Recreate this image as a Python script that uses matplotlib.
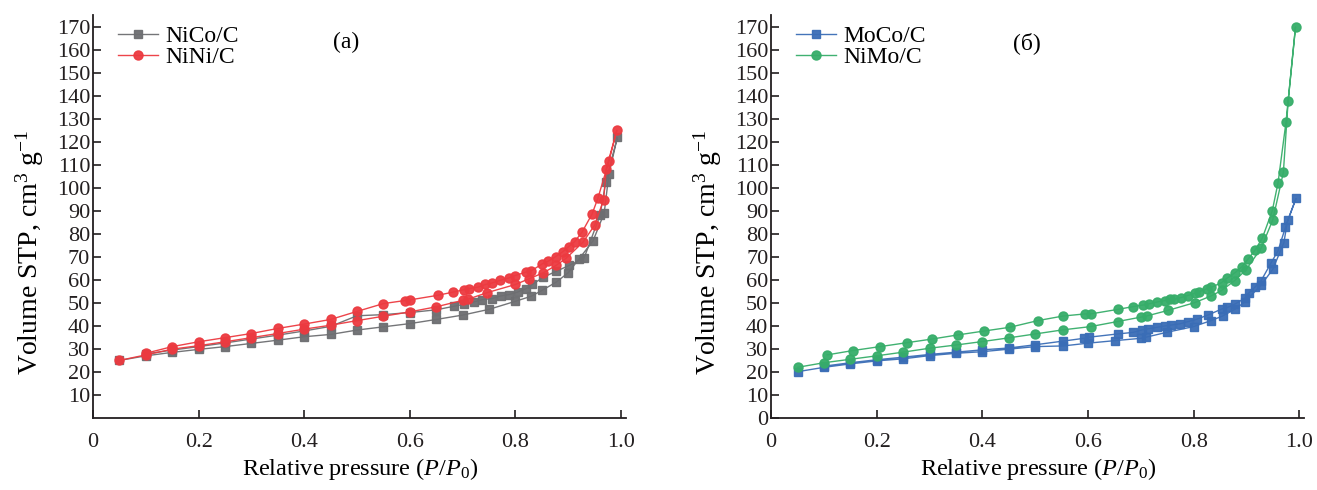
import matplotlib
matplotlib.use("Agg")
import matplotlib.pyplot as plt
from matplotlib.ticker import FixedLocator

plt.rcParams['font.family'] = ['Liberation Serif', 'DejaVu Serif']
plt.rcParams['mathtext.fontset'] = 'custom'
plt.rcParams['mathtext.rm'] = 'Liberation Serif'
plt.rcParams['mathtext.it'] = 'Liberation Serif:italic'

# ---------------- Panel (a) ----------------
nico_ads_p = [0.05, 0.10, 0.15, 0.20, 0.25, 0.30, 0.35, 0.40, 0.45, 0.50, 0.55, 0.60, 0.65,
              0.70, 0.75, 0.80, 0.83, 0.85, 0.877, 0.90, 0.92, 0.947, 0.968, 0.977, 0.993]
nico_ads_v = [25, 27, 28.5, 29.8, 31, 32.4, 33.8, 35.3, 36.3, 38.2, 39.6, 41, 42.8,
              44.7, 47.2, 50.7, 52.9, 55.4, 59, 63.1, 69, 77, 89, 106, 122]
nico_des_p = [0.971, 0.96, 0.93, 0.902, 0.877, 0.853, 0.832, 0.82, 0.804, 0.788, 0.772, 0.756,
              0.737, 0.721, 0.702, 0.683, 0.65, 0.60, 0.55, 0.50, 0.45, 0.40, 0.35, 0.30,
              0.25, 0.20, 0.15, 0.10]
nico_des_v = [102.6, 88, 69.5, 66.3, 63.7, 61.2, 58, 56.2, 54.7, 53.6, 53, 51.9,
              51.4, 50.4, 49.4, 48.5, 47, 45.8, 44.9, 44.4, 39.8, 37.8, 36, 34.3,
              32.6, 31, 29.5, 27.8]

nini_ads_p = [0.05, 0.10, 0.15, 0.20, 0.25, 0.30, 0.35, 0.40, 0.45, 0.50, 0.55, 0.60, 0.65,
              0.70, 0.71, 0.747, 0.80, 0.826, 0.853, 0.877, 0.896, 0.928, 0.95, 0.967, 0.972, 0.992]
nini_ads_v = [25, 27.4, 29.9, 31.4, 33.1, 34.9, 36.7, 38.6, 40.3, 42.3, 44.2, 46.1, 48.3,
              51.1, 51.6, 54.5, 58, 60.5, 63.1, 66.3, 69.4, 76.4, 83.8, 94.8, 108.3, 125]
nini_des_p = [0.977, 0.956, 0.945, 0.926, 0.912, 0.901, 0.89, 0.876, 0.861, 0.851, 0.829, 0.82,
              0.80, 0.787, 0.771, 0.755, 0.743, 0.73, 0.712, 0.702, 0.682, 0.653, 0.60, 0.59,
              0.55, 0.50, 0.45, 0.40, 0.35, 0.30, 0.25, 0.20, 0.15, 0.10]
nini_des_v = [111.6, 95.4, 88.6, 80.7, 76.6, 74.5, 72.3, 70.1, 68, 67, 63.8, 63.4,
              61.9, 60.8, 59.8, 58.6, 58, 56.9, 56.2, 55.7, 54.7, 53.3, 51.3, 51,
              49.7, 46.3, 42.8, 40.8, 38.9, 36.7, 34.9, 33.1, 31, 28.1]

# ---------------- Panel (б) ----------------
moco_ads_p = [0.05, 0.10, 0.15, 0.20, 0.25, 0.30, 0.35, 0.40, 0.45, 0.50, 0.553, 0.60, 0.651,
              0.70, 0.71, 0.749, 0.80, 0.833, 0.855, 0.878, 0.898, 0.928, 0.95, 0.971, 0.978, 0.994]
moco_ads_v = [20.1, 22, 23.5, 24.8, 25.7, 27.1, 28.1, 28.8, 29.9, 31, 31.3, 32.5, 33.6,
              34.6, 35.1, 37.2, 39.7, 42.3, 44.3, 47.2, 50.6, 57.8, 64.6, 76.2, 85.8, 95.4]
moco_des_p = [0.974, 0.96, 0.947, 0.928, 0.916, 0.904, 0.897, 0.879, 0.864, 0.854, 0.828, 0.806,
              0.79, 0.774, 0.758, 0.746, 0.731, 0.713, 0.703, 0.686, 0.656, 0.602, 0.592, 0.553,
              0.50, 0.45, 0.40, 0.35, 0.30, 0.25, 0.20, 0.15, 0.10]
moco_des_v = [82.9, 72.7, 67.5, 59.7, 56.8, 54.2, 52, 49.6, 48, 47.4, 44.8, 42.9,
              41.9, 40.9, 40.4, 40, 39.4, 38.7, 38.3, 37.2, 36.5, 35.1, 34.6, 33.4,
              31.8, 30.4, 29.6, 28.6, 27.6, 26.4, 25.3, 24, 22.5]

nimo_ads_p = [0.05, 0.10, 0.15, 0.20, 0.25, 0.30, 0.35, 0.40, 0.45, 0.50, 0.553, 0.605, 0.656,
              0.70, 0.711, 0.751, 0.802, 0.833, 0.853, 0.878, 0.899, 0.928, 0.95, 0.97, 0.979, 0.993]
nimo_ads_v = [22, 24, 25.5, 27, 28.6, 30.3, 31.7, 33.2, 34.8, 36.5, 38.3, 39.7, 41.9,
              43.8, 44.3, 46.7, 50.1, 53, 55.4, 59.7, 64.3, 73.8, 86.1, 106.7, 137.5, 169.9]
nimo_des_p = [0.975, 0.96, 0.949, 0.93, 0.916, 0.903, 0.892, 0.879, 0.863, 0.853, 0.833, 0.825,
              0.811, 0.803, 0.789, 0.776, 0.762, 0.755, 0.746, 0.731, 0.716, 0.705, 0.686, 0.657,
              0.605, 0.594, 0.553, 0.505, 0.452, 0.404, 0.354, 0.305, 0.257, 0.206, 0.155, 0.106]
nimo_des_v = [128.6, 102.3, 90, 78.1, 72.8, 69, 65.8, 63.2, 60.7, 58.8, 56.7, 56.1,
              54.9, 54.2, 53.2, 52.3, 51.6, 51.6, 51, 50.4, 49.6, 49.1, 48.4, 47.2,
              45.2, 45.2, 44.3, 42.3, 39.4, 37.8, 36.1, 34.3, 32.7, 31, 29.3, 27.4]

x_ticks = [0, 0.2, 0.4, 0.6, 0.8, 1.0]
x_ticklabels = ["0", "0.2", "0.4", "0.6", "0.8", "1.0"]
yticks_a = list(range(10, 171, 10))
yticks_b = list(range(0, 171, 10))

GRAY = "#6d6e71"
RED = "#ec3a40"
BLUE = "#3a6db6"
GREEN = "#36ad69"

fig = plt.figure(figsize=(13.17, 4.9), dpi=100)
ax1 = fig.add_axes([0.0706, 0.147, 0.405, 0.822])
ax2 = fig.add_axes([0.5855, 0.147, 0.405, 0.822])


def series(ax, ap, av, dp, dv, color, marker, ms, label):
    ax.plot(ap + dp, av + dv, color=color, lw=1.0, marker=marker, ms=ms,
            mfc=color, mec=color, label=label, alpha=0.95)


series(ax1, nico_ads_p, nico_ads_v, nico_des_p, nico_des_v, GRAY, 's', 5.5, "NiCo/C")
series(ax1, nini_ads_p, nini_ads_v, nini_des_p, nini_des_v, RED, 'o', 6.5, "NiNi/C")
series(ax2, moco_ads_p, moco_ads_v, moco_des_p, moco_des_v, BLUE, 's', 5.5, "MoCo/C")
series(ax2, nimo_ads_p, nimo_ads_v, nimo_des_p, nimo_des_v, GREEN, 'o', 6.5, "NiMo/C")

for ax, yt, tag, tx in ((ax1, yticks_a, "(a)", 0.48), (ax2, yticks_b, "(б)", 0.485)):
    ax.set_xlim(0, 1.01)
    ax.set_ylim(0, 175)
    ax.xaxis.set_major_locator(FixedLocator(x_ticks))
    ax.set_xticklabels(x_ticklabels)
    ax.yaxis.set_major_locator(FixedLocator(yt))
    ax.spines['top'].set_visible(False)
    ax.spines['right'].set_visible(False)
    for s in ('left', 'bottom'):
        ax.spines[s].set_linewidth(1.3)
        ax.spines[s].set_color("#231f20")
    ax.tick_params(axis='both', direction='in', length=6, width=1.2, labelsize=16,
                   colors="#231f20")
    ax.tick_params(axis='y', pad=2)
    ax.tick_params(axis='x', pad=11)
    ax.set_xlabel(r"Relative pressure ($P$/$P_0$)", fontsize=17.5, labelpad=3)
    ax.set_ylabel(r"Volume STP, cm$^3$ g$^{-1}$", fontsize=20)
    ax.yaxis.set_label_coords(-0.088, 0.41)
    ax.legend(loc='upper left', bbox_to_anchor=(0.02, 1.01), frameon=False, fontsize=17,
              numpoints=1, handlelength=1.7, handletextpad=0.3, labelspacing=0.0,
              borderaxespad=0.2)
    ax.text(tx, 163, tag, fontsize=17, ha='center', va='center')

fig.savefig("out.png", dpi=100)
